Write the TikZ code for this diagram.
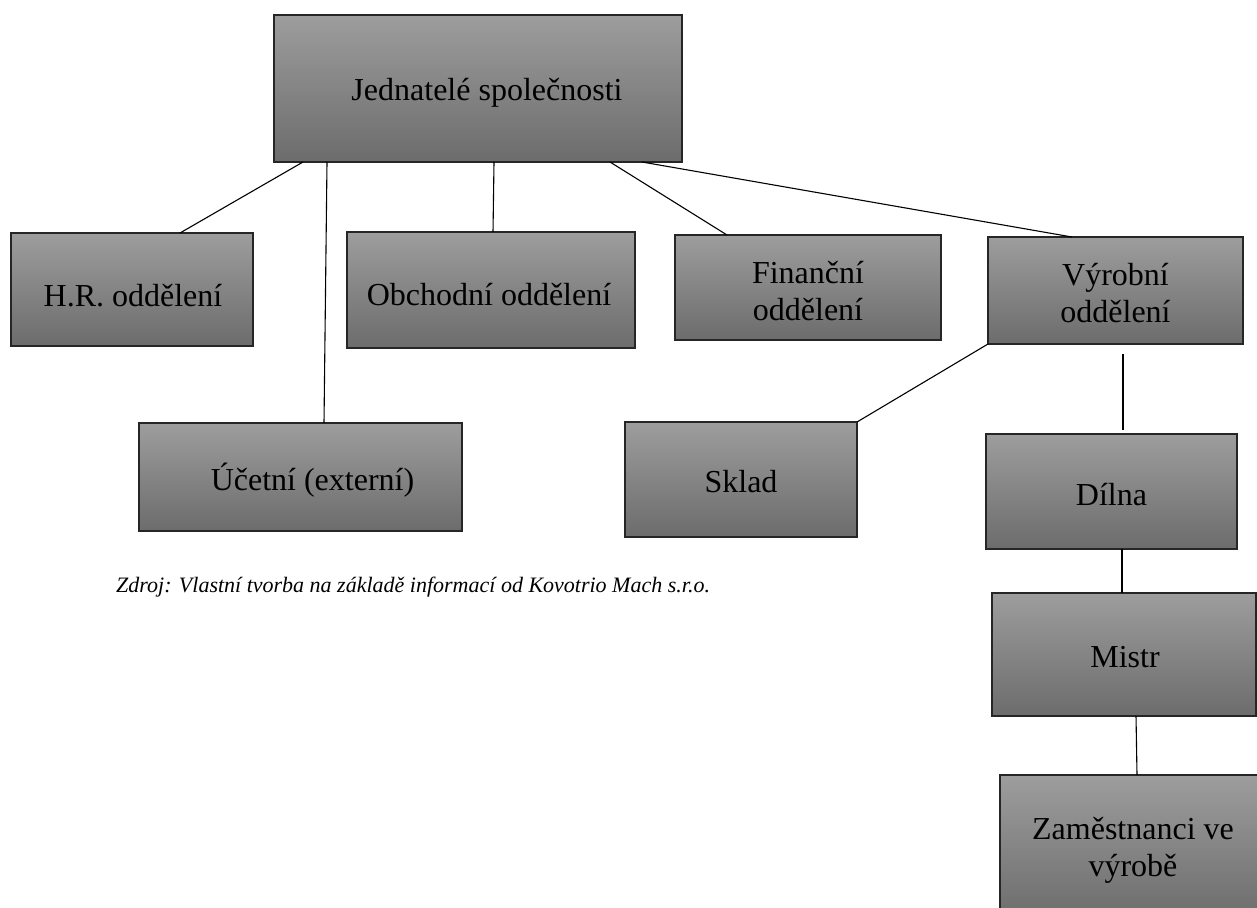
\documentclass[tikz,border=0pt]{standalone}
\usepackage{fontspec}
\setmainfont{Liberation Serif}
\usetikzlibrary{calc}
\definecolor{boxtop}{RGB}{157,157,157}
\definecolor{boxbot}{RGB}{108,108,108}
\tikzset{
  orgbox/.style={draw=black!85, line width=1.5pt, top color=boxtop, bottom color=boxbot,
    inner sep=0pt, outer sep=0pt},
  boxtext/.style={inner sep=0pt, align=center, font=\fontsize{32}{37}\selectfont},
  link/.style={draw=black, line width=1.1pt},
  srctext/.style={anchor=base west, inner sep=0pt, font=\fontsize{22}{26}\selectfont\itshape}
}
\begin{document}
\begin{tikzpicture}[x=1pt,y=-1pt]
\useasboundingbox (0,0) rectangle (1257,907);
\fill[white] (0,0) rectangle (1257,907);
\begin{scope}
\clip (0,0) rectangle (1257,907);
\node[orgbox, minimum width=408, minimum height=147] (jed) at (478,88.5) {};
\node[orgbox, minimum width=242, minimum height=113] (hr) at (132,289.5) {};
\node[orgbox, minimum width=288, minimum height=116] (ob) at (491,290) {};
\node[orgbox, minimum width=266, minimum height=105] (fin) at (808,287.5) {};
\node[orgbox, minimum width=255, minimum height=107] (vyr) at (1115.5,290.5) {};
\node[orgbox, minimum width=323, minimum height=108] (uc) at (300.5,477) {};
\node[orgbox, minimum width=232, minimum height=115] (skl) at (741,479.5) {};
\node[orgbox, minimum width=251, minimum height=115] (dil) at (1111.5,491.5) {};
\node[orgbox, minimum width=264, minimum height=123] (mis) at (1124,654.5) {};
\node[orgbox, minimum width=266, minimum height=146] (zam) at (1133,848) {};
\end{scope}

\node[boxtext] (jedT) at ($(jed)+(9,4)$) {Jednatelé společnosti};
\node[boxtext] (hrT) at ($(hr)+(1,6)$) {H.R. oddělení};
\node[boxtext] (obT) at ($(ob)+(-2,5)$) {Obchodní oddělení};
\node[boxtext] (finT) at ($(fin)+(0,4)$) {Finanční\\oddělení};
\node[boxtext] (vyrT) at ($(vyr)+(0,3)$) {Výrobní\\oddělení};
\node[boxtext] (ucT) at ($(uc)+(12,3)$) {Účetní (externí)};
\node[boxtext] (sklT) at ($(skl)+(0,2.5)$) {Sklad};
\node[boxtext] (dilT) at ($(dil)+(0,3.5)$) {Dílna};
\node[boxtext] (misT) at ($(mis)+(1,2.5)$) {Mistr};
\node[boxtext] (zamT) at ($(zam)+(0,2)$) {Zaměstnanci ve\\výrobě};

\draw[link] ($(jed.south west)+(29,0)$) -- ($(hr.north west)+(169,0)$);
\draw[link] ($(jed.south west)+(53,0)$) -- ($(uc.north west)+(185,0)$);
\draw[link] ($(jed.south west)+(220,0)$) -- ($(ob.north west)+(146,0)$);
\draw[link] ($(jed.south west)+(336,0)$) -- ($(fin.north west)+(52,0)$);
\draw[link] ($(jed.south west)+(368,0)$) -- ($(vyr.north west)+(84,0)$);
\draw[link] (vyr.south west) -- (skl.north east);
\coordinate (vyrdown) at ($(vyr.south west)+(135,10)$);
\coordinate (dilup) at ($(dil.north west)+(137,-4)$);
\draw[link] (vyrdown) -- (dilup);
\draw[link] ($(dil.south west)+(136,0)$) -- ($(mis.north west)+(130,0)$);
\draw[link] ($(mis.south west)+(144,0)$) -- ($(zam.north west)+(137,0)$);

\node[srctext] (src) at (116,592) {Zdroj: Vlastní tvorba na základě informací od Kovotrio Mach s.r.o.};
\end{tikzpicture}
\end{document}
